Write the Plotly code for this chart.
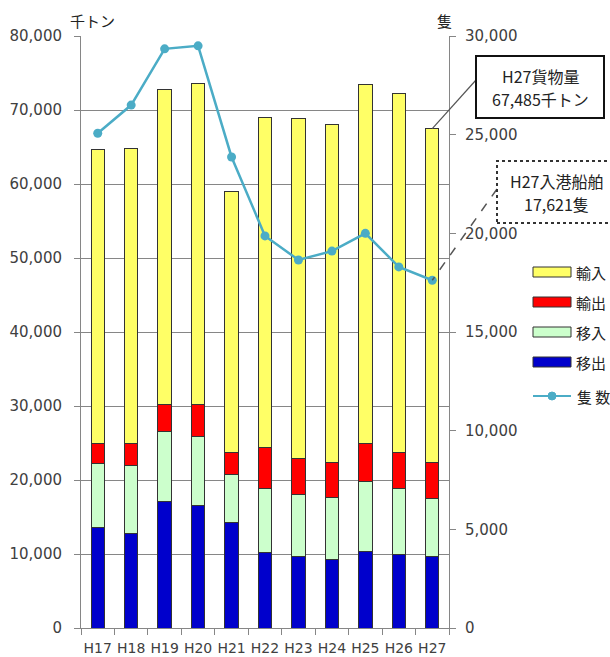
import plotly.graph_objects as go

categories = ["H17", "H18", "H19", "H20", "H21", "H22", "H23", "H24", "H25", "H26", "H27"]
# 千トン
ishutsu = [13600, 12800, 17100, 16600, 14300, 10200, 9600, 9200, 10400, 10000, 9600]   # 移出
inyu = [8600, 9200, 9500, 9300, 6400, 8600, 8500, 8500, 9400, 8900, 7900]            # 移入
yushutsu = [2700, 3000, 3600, 4300, 3000, 5600, 4800, 4700, 5100, 4800, 4800]        # 輸出
yunyu = [39700, 39800, 42600, 43400, 35300, 44600, 45900, 45700, 48600, 48500, 45185]  # 輸入
# 隻
ships = [25070, 26500, 29350, 29500, 23870, 19870, 18650, 19100, 20000, 18300, 17621]

GRAY = "#868686"
TXT = "#404040"
CJK = "Noto Sans CJK JP"
NUM = "DejaVu Sans"
LINE_C = "#4BACC6"
Y1MAX, Y2MAX = 80000, 30000

# plot area in page pixels
L, R, T, B = 81, 449, 36, 628
W, H = 610, 657

def px_x(p):
    return (p - L) / (R - L)

def px_y(p):
    return (B - p) / (B - T)

fig = go.Figure()
line_col = dict(color="#333333", width=1)
series = [
    ("移出", ishutsu, "#0000CC"),
    ("移入", inyu, "#CCFFCC"),
    ("輸出", yushutsu, "#FF0000"),
    ("輸入", yunyu, "#FFFF66"),
]
for name, vals, col in series:
    fig.add_trace(go.Bar(
        x=categories, y=vals, name=name, marker=dict(color=col, line=line_col),
        yaxis="y", showlegend=False,
    ))

fig.add_trace(go.Scatter(
    x=categories, y=ships, name="隻数", mode="lines+markers", yaxis="y2",
    line=dict(color=LINE_C, width=2.5), marker=dict(color=LINE_C, size=9),
    showlegend=False,
))

n = len(categories)
fig.update_layout(
    width=W, height=H,
    margin=dict(l=L, r=W - R, t=T, b=H - B, autoexpand=False),
    paper_bgcolor="white", plot_bgcolor="white",
    barmode="stack", bargap=0.6, showlegend=False,
    font=dict(family=NUM, size=14, color=TXT),
    xaxis=dict(
        type="category", range=[-0.5, n - 0.5], autorange=False,
        tickson="boundaries", ticks="outside", ticklen=6, tickangle=0,
        tickcolor=GRAY, showline=True, linecolor=GRAY, linewidth=1,
        showgrid=False, automargin=False, ticklabelstandoff=7,
        tickfont=dict(family=NUM, size=14, color=TXT),
    ),
    yaxis=dict(
        range=[0, Y1MAX], autorange=False, dtick=10000, tickformat=",d", ticks="outside",
        ticklen=6, tickcolor=GRAY, showline=True, linecolor=GRAY,
        showgrid=True, gridcolor=GRAY, gridwidth=1, zeroline=False, automargin=False,
        tickfont=dict(family=NUM, size=15, color=TXT), ticklabelstandoff=9,
    ),
    yaxis2=dict(
        range=[0, Y2MAX], autorange=False, dtick=5000, tickformat=",d", overlaying="y",
        side="right", ticks="outside", ticklen=6, tickcolor=GRAY,
        showline=True, linecolor=GRAY, showgrid=False, zeroline=False, automargin=False,
        tickfont=dict(family=NUM, size=15, color=TXT), ticklabelstandoff=6,
    ),
)

def text_at(txt, x, y, size=15, anchor="center"):
    fig.add_annotation(text=txt, xref="paper", yref="paper", x=px_x(x), y=px_y(y),
                       xanchor=anchor, yanchor="middle", showarrow=False,
                       font=dict(family=CJK, size=size, color="#222222"))

# custom legend (wide swatches like the original)
legend_items = [("輸入", "#FFFF66", 272), ("輸出", "#FF0000", 302),
                ("移入", "#CCFFCC", 332), ("移出", "#0000CC", 362)]
sx0, sx1 = 533, 571
for label, col, cy in legend_items:
    fig.add_shape(type="rect", xref="paper", yref="paper",
                  x0=px_x(sx0), x1=px_x(sx1), y0=px_y(cy + 5), y1=px_y(cy - 5),
                  fillcolor=col, line=dict(color="#333333", width=1))
    text_at(label, 574, cy, anchor="left")
ly = 396
fig.add_shape(type="line", xref="paper", yref="paper",
              x0=px_x(sx0), x1=px_x(sx1), y0=px_y(ly), y1=px_y(ly),
              line=dict(color=LINE_C, width=2))
fig.add_shape(type="circle", xref="paper", yref="paper",
              x0=px_x(548), x1=px_x(556), y0=px_y(ly + 4), y1=px_y(ly - 4),
              fillcolor=LINE_C, line=dict(color=LINE_C, width=1))
text_at("隻 数", 575, ly, anchor="left")

# axis unit labels
text_at("千トン", 92, 20)
text_at("隻", 444, 20)

pt_x = (n - 0.5) / n  # H27 category centre in paper units

# H27 cargo callout (solid box)
total_h27 = ishutsu[-1] + inyu[-1] + yushutsu[-1] + yunyu[-1]
fig.add_shape(type="line", xref="paper", yref="paper",
              x0=px_x(476), y0=px_y(80), x1=pt_x, y1=total_h27 / Y1MAX,
              line=dict(color="#555555", width=1.2))
fig.add_shape(type="rect", xref="paper", yref="paper",
              x0=px_x(476), x1=px_x(604), y0=px_y(118), y1=px_y(56),
              line=dict(color="#111111", width=2), fillcolor="white")
text_at("H27貨物量", 540, 76, size=16)
text_at("67,485千トン", 540, 99, size=16)

# H27 ships callout (dotted box)
bx0, by0, bx1, by1 = 497, 161, 620, 223
fig.add_shape(type="line", xref="paper", yref="paper",
              x0=px_x(bx0), y0=px_y(189), x1=pt_x, y1=ships[-1] / Y2MAX,
              line=dict(color="#555555", width=1.5, dash="dash"))
fig.add_shape(type="rect", xref="paper", yref="paper",
              x0=px_x(bx0), y0=px_y(by1), x1=px_x(bx1), y1=px_y(by0),
              line=dict(color="#333333", width=2, dash="dot"), fillcolor="white")
text_at("H27入港船舶", 556, 181, size=16)
text_at("17,621隻", 556, 204, size=16)

fig.write_html(
    "out.html",
    config={"displayModeBar": False},
    post_script="document.body.style.margin='0';document.body.style.overflow='hidden';",
)
